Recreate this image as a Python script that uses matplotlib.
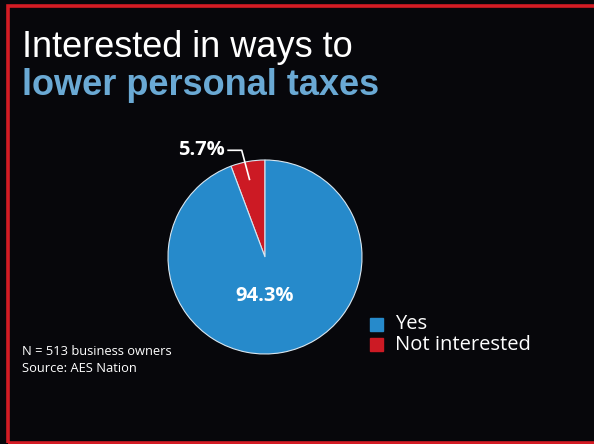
import matplotlib
matplotlib.use('Agg')
import matplotlib.pyplot as plt
from matplotlib.patches import Rectangle

labels = ['Yes', 'Not interested']
shares = [94.3, 5.7]
colors = ['#268acb', '#cc1a24']
title_line1 = 'Interested in ways to'
title_line2 = 'lower personal taxes'
note_lines = ['N = 513 business owners', 'Source: AES Nation']

W, H = 594, 444
bg = '#07070b'

fig = plt.figure(figsize=(W / 100, H / 100), dpi=100, facecolor=bg)

# red frame
fig.patches.append(Rectangle((8 / W, 1.5 / H), 1.0, 1 - 8 / H, transform=fig.transFigure,
                             fill=False, edgecolor='#d41c24', linewidth=2.6, zorder=5))

# title
fig.text(22 / W, 1 - 57 / H, title_line1, color='white', fontsize=26,
         family='Liberation Sans', va='baseline')
fig.text(22 / W, 1 - 95 / H, title_line2, color='#6aa9d4', fontsize=26,
         family='Liberation Sans', fontweight='bold', va='baseline')

# pie: center ~(265,257), radius ~97 px
r = 97
ax = fig.add_axes([(265 - r) / W, 1 - (257 + r) / H, 2 * r / W, 2 * r / H])
ax.set_facecolor(bg)
# red slice goes left from 12 o'clock
wedges, _ = ax.pie(shares[::-1], colors=colors[::-1], startangle=90, counterclock=True,
                   wedgeprops=dict(edgecolor='#d8e6f0', linewidth=0.8))
ax.set_aspect('equal')
ax.set_xlim(-1, 1)
ax.set_ylim(-1, 1)
ax.axis('off')

ax.text(0, -0.4, f'{shares[0]}%', color='white', fontsize=14.5, fontweight='bold',
        family='Open Sans', ha='center', va='center')
# leader line for small slice
ax.plot([-0.16, -0.24, -0.38], [0.8, 1.1, 1.1], color='white', lw=1.2, clip_on=False)
ax.text(-0.41, 1.1, f'{shares[1]}%', color='white', fontsize=14.5, fontweight='bold',
        family='Open Sans', ha='right', va='center')

# legend
for i, (lab, c) in enumerate(zip(labels, colors)):
    y = 1 - (324 + i * 21) / H
    fig.patches.append(Rectangle((370 / W, y - 6.5 / H), 13 / W, 13 / H,
                                 transform=fig.transFigure, color=c))
    fig.text(395 / W, y, lab, color='white', fontsize=14.5, family='Open Sans',
             va='center')

# note
for i, line in enumerate(note_lines):
    fig.text(22 / W, 1 - (351 + i * 18) / H, line, color='white', fontsize=9.3,
             family='Open Sans', va='center')

fig.savefig('out.png', dpi=100, facecolor=bg)
